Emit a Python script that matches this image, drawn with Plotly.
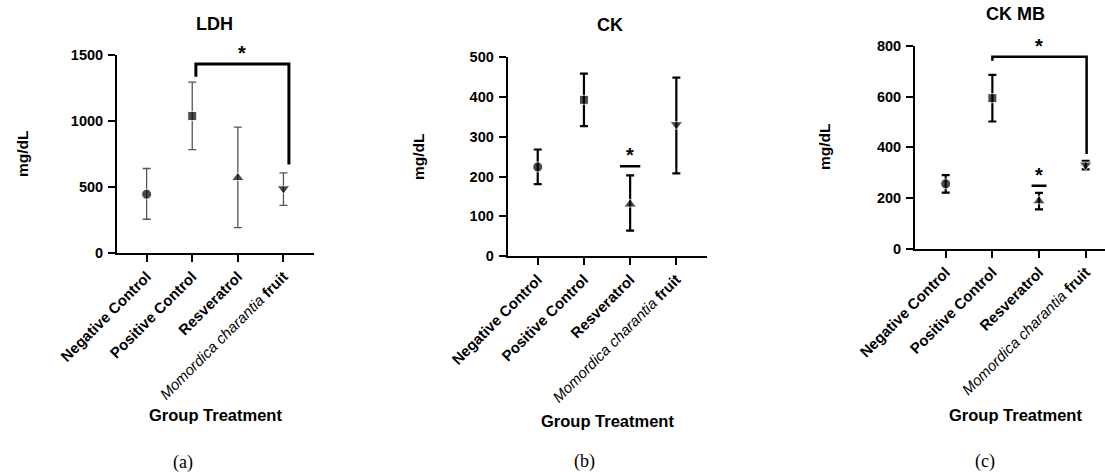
import plotly.graph_objects as go

# ---------------- data ----------------
categories = ["Negative Control", "Positive Control", "Resveratrol", "Momordica charantia fruit"]
tick_labels = ["<b>Negative Control</b>", "<b>Positive Control</b>", "<b>Resveratrol</b>",
               "<i>Momordica charantia</i> <b>fruit</b>"]
symbols = ["circle", "square", "triangle-up", "triangle-down"]

ldh_mean = [446, 1039, 570, 489]
ldh_err_plus = [195, 258, 385, 119]
ldh_err_minus = [190, 254, 377, 127]

ck_mean = [224, 393, 130, 331]
ck_err_plus = [44, 66, 73, 118]
ck_err_minus = [43, 66, 66, 123]

ckmb_mean = [256, 594, 188, 331]
ckmb_err_plus = [34, 92, 32, 16]
ckmb_err_minus = [35, 92, 33, 18]

panel_titles = ["LDH", "CK", "CK MB"]
panel_letters = ["(a)", "(b)", "(c)"]
y_ranges = [[0, 1500], [0, 500], [0, 800]]
y_dticks = [500, 100, 200]

# significance markers (data units)
ldh_bracket = dict(x_left=1.08, x_right=3.12, top=1434, left_end=1338, right_end=671)
ckmb_bracket = dict(x_left=1.0, x_right=3.02, top=758, left_end=742, right_end=374)
ck_sig_line = dict(x=2, half=0.22, y=226)
ckmb_sig_line = dict(x=2, half=0.16, y=248)

# ---------------- layout helpers ----------------
W, H = 1105, 472
FONT = "Liberation Sans, Arial, sans-serif"
x_pos = list(range(len(categories)))


def px(x):
    return x / W


def py(y):
    return 1 - y / H


fig = go.Figure()

panels = [
    dict(mean=ldh_mean, ep=ldh_err_plus, em=ldh_err_minus, err_color="#555555", err_w=1.3,
         dom_x=[px(117), px(314)], dom_y=[py(253), py(55.3)], xr=[-0.65, 3.67]),
    dict(mean=ck_mean, ep=ck_err_plus, em=ck_err_minus, err_color="#000000", err_w=2.2,
         dom_x=[px(507.7), px(707.3)], dom_y=[py(256), py(57.3)], xr=[-0.65, 3.67]),
    dict(mean=ckmb_mean, ep=ckmb_err_plus, em=ckmb_err_minus, err_color="#000000", err_w=2.2,
         dom_x=[px(915), 1.0], dom_y=[py(248.7), py(46)], xr=[-0.658, 3.414]),
]

for i, p in enumerate(panels):
    n = "" if i == 0 else str(i + 1)
    fig.add_trace(go.Scatter(
        x=x_pos, y=p["mean"], mode="markers",
        xaxis="x" + n, yaxis="y" + n,
        marker=dict(symbol=symbols, size=[10, 9, 11, 11], color="black"),
        error_y=dict(type="data", symmetric=False, array=p["ep"], arrayminus=p["em"],
                     color=p["err_color"], thickness=p["err_w"], width=4),
        text=categories, hoverinfo="text+y", showlegend=False,
    ))
    fig.update_layout(**{
        "xaxis" + n: dict(domain=p["dom_x"], range=p["xr"], anchor="y" + n, automargin=False,
                          tickmode="array", tickvals=x_pos, ticktext=tick_labels,
                          tickangle=-45, showline=True, linewidth=2, linecolor="black",
                          ticks="outside", ticklen=7, tickwidth=2, tickcolor="black",
                          showgrid=False, zeroline=False,
                          tickfont=dict(family=FONT, size=15, color="black")),
        "yaxis" + n: dict(domain=p["dom_y"], range=y_ranges[i], anchor="x" + n, automargin=False,
                          dtick=y_dticks[i], showline=True, linewidth=2, linecolor="black",
                          ticks="outside", ticklen=7, tickwidth=2, tickcolor="black",
                          showgrid=False, zeroline=False, ticklabelstandoff=2,
                          tickfont=dict(family=FONT, size=14.5, color="black", weight="bold")),
    })

# ---------------- text annotations ----------------
ann = []
title_pos = [(214, 23.5), (609.5, 25), (1015, 14)]
ytitle_pos = [(22, 154), (418, 157), (825, 147)]
xtitle_pos = [(215, 415), (607.5, 420.5), (1015, 415)]
letter_pos = [(183, 462), (584.5, 461), (985, 461.5)]
for i in range(3):
    ann.append(dict(text="<b>%s</b>" % panel_titles[i], x=px(title_pos[i][0]), y=py(title_pos[i][1]),
                    xref="paper", yref="paper", showarrow=False, xanchor="center", yanchor="middle",
                    font=dict(family=FONT, size=18, color="black")))
    ann.append(dict(text="<b>mg/dL</b>", x=px(ytitle_pos[i][0]), y=py(ytitle_pos[i][1]),
                    xref="paper", yref="paper", showarrow=False, textangle=-90,
                    xanchor="center", yanchor="middle",
                    font=dict(family=FONT, size=15.5, color="black")))
    ann.append(dict(text="<b>Group Treatment</b>", x=px(xtitle_pos[i][0]), y=py(xtitle_pos[i][1]),
                    xref="paper", yref="paper", showarrow=False, xanchor="center", yanchor="middle",
                    font=dict(family=FONT, size=16.5, color="black")))
    ann.append(dict(text=panel_letters[i], x=px(letter_pos[i][0]), y=py(letter_pos[i][1]),
                    xref="paper", yref="paper", showarrow=False, xanchor="center", yanchor="middle",
                    borderpad=0,
                    font=dict(family="Liberation Serif, Times New Roman, serif", size=18, color="black")))

# stars
star_font = dict(family=FONT, size=20, color="black")
ann.append(dict(text="<b>*</b>", x=(ldh_bracket["x_left"] + ldh_bracket["x_right"]) / 2, y=ldh_bracket["top"],
                xref="x", yref="y", showarrow=False, yanchor="bottom", yshift=-2, font=star_font))
ann.append(dict(text="<b>*</b>", x=ck_sig_line["x"], y=ck_sig_line["y"],
                xref="x2", yref="y2", showarrow=False, yanchor="bottom", yshift=-2, font=star_font))
ann.append(dict(text="<b>*</b>", x=(ckmb_bracket["x_left"] + ckmb_bracket["x_right"]) / 2, y=ckmb_bracket["top"],
                xref="x3", yref="y3", showarrow=False, yanchor="bottom", yshift=-2, font=star_font))
ann.append(dict(text="<b>*</b>", x=ckmb_sig_line["x"], y=ckmb_sig_line["y"],
                xref="x3", yref="y3", showarrow=False, yanchor="bottom", yshift=-2, font=star_font))

# ---------------- shapes ----------------
shapes = []
b = ldh_bracket
shapes.append(dict(type="path", xref="x", yref="y",
                   path="M %g,%g L %g,%g L %g,%g L %g,%g" % (b["x_left"], b["left_end"], b["x_left"], b["top"],
                                                             b["x_right"], b["top"], b["x_right"], b["right_end"]),
                   line=dict(color="black", width=3)))
b = ckmb_bracket
shapes.append(dict(type="path", xref="x3", yref="y3",
                   path="M %g,%g L %g,%g L %g,%g L %g,%g" % (b["x_left"], b["left_end"], b["x_left"], b["top"],
                                                             b["x_right"], b["top"], b["x_right"], b["right_end"]),
                   line=dict(color="black", width=2.5)))
for s, xr, yr in [(ck_sig_line, "x2", "y2"), (ckmb_sig_line, "x3", "y3")]:
    shapes.append(dict(type="line", xref=xr, yref=yr, x0=s["x"] - s["half"], x1=s["x"] + s["half"],
                       y0=s["y"], y1=s["y"], line=dict(color="black", width=2.5)))

fig.update_layout(
    width=W, height=H,
    margin=dict(l=0, r=0, t=0, b=0),
    paper_bgcolor="white", plot_bgcolor="white",
    annotations=ann, shapes=shapes,
    font=dict(family=FONT, color="black"),
)

# the page's default 8px body margin would offset the figure; remove it
fig.write_html("out.html", config={"displayModeBar": False},
               post_script="document.body.style.margin='0px';")
